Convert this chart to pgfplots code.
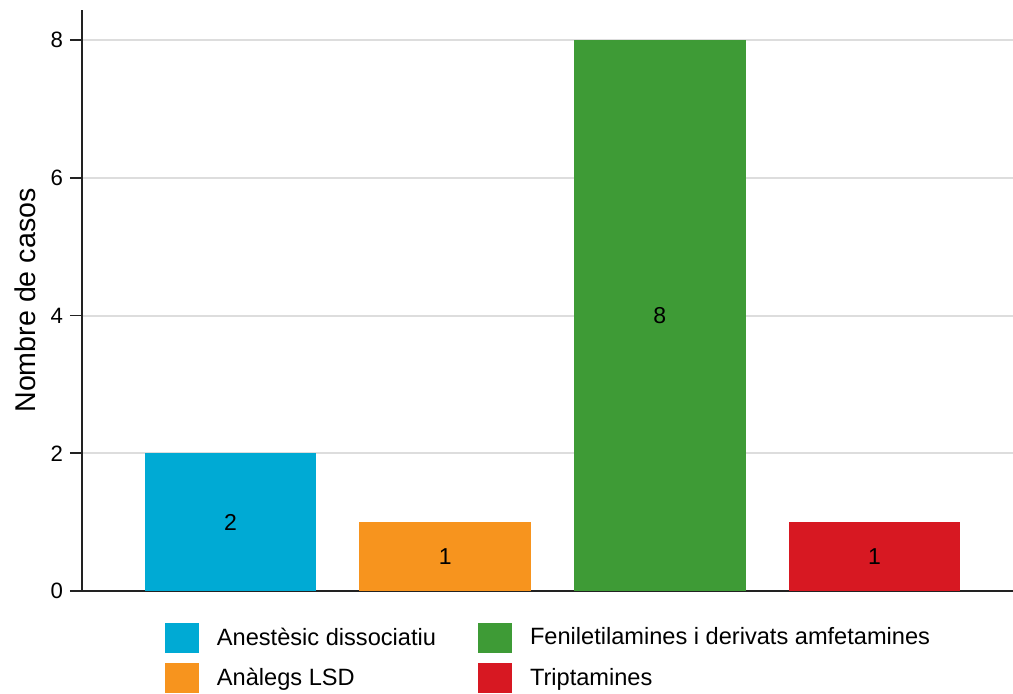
\documentclass[border=0pt]{standalone}
\usepackage{fontspec}
\setmainfont{Liberation Sans}
\usepackage{pgfplots}
\pgfplotsset{compat=1.18}
\definecolor{cA}{RGB}{0,170,212}
\definecolor{cB}{RGB}{247,148,30}
\definecolor{cC}{RGB}{62,155,54}
\definecolor{cD}{RGB}{215,24,34}
\definecolor{gridc}{RGB}{221,221,221}
\definecolor{axc}{RGB}{34,34,34}
\pgfplotsset{legsq/.style={legend image code/.code={\fill[##1] (0pt,-7.4pt) rectangle (17pt,7.4pt);}}}
\begin{document}
\begin{tikzpicture}
\useasboundingbox (-41pt,-51pt) rectangle (465.5pt,295.5pt);
\begin{axis}[
  scale only axis,
  width=465.5pt, height=290.5pt,
  xmin=-0.692, xmax=3.645,
  ymin=0, ymax=8.436,
  ybar, bar width=0.8, bar shift=0pt,
  axis x line*=bottom, axis y line*=left,
  axis line style={axc, line width=0.9pt, -},
  xtick=\empty,
  ytick={0,2,4,6,8},
  tick align=outside,
  major tick length=6pt,
  tick style={axc, line width=0.9pt},
  ymajorgrids,
  grid style={gridc, line width=1pt},
  /pgf/number format/assume math mode=true,
  yticklabel style={font=\fontsize{11.1}{13}\selectfont, xshift=0pt},
  ylabel={Nombre de casos},
  ylabel style={font=\fontsize{14.3}{16}\selectfont, at={(axis description cs:-0.0612,0.5)}, anchor=center},
  visualization depends on={y \as \rawy},
  nodes near coords,
  nodes near coords style={font=\fontsize{11.5}{13}\selectfont, anchor=center, shift={(axis direction cs:0,-\rawy/2)}},
  legend columns=2,
  legend style={at={(axis description cs:0.0891,-0.0551)}, anchor=north west, draw=none, inner sep=0pt, outer sep=0pt,
    font=\fontsize{11.8}{13}\selectfont, row sep=5.3pt,
    /tikz/every odd column/.append style={column sep=7pt},
    /tikz/every even column/.append style={column sep=19pt}},
  legend cell align=left,
]
\addplot[fill=cA, draw=none, legsq] coordinates {(0,2)};
\addlegendentry{Anestèsic dissociatiu}
\addplot[fill=cC, draw=none, legsq] coordinates {(2,8)};
\addlegendentry{Feniletilamines i derivats amfetamines}
\addplot[fill=cB, draw=none, legsq] coordinates {(1,1)};
\addlegendentry{Anàlegs LSD}
\addplot[fill=cD, draw=none, legsq] coordinates {(3,1)};
\addlegendentry{Triptamines}
\end{axis}
\end{tikzpicture}
\end{document}
